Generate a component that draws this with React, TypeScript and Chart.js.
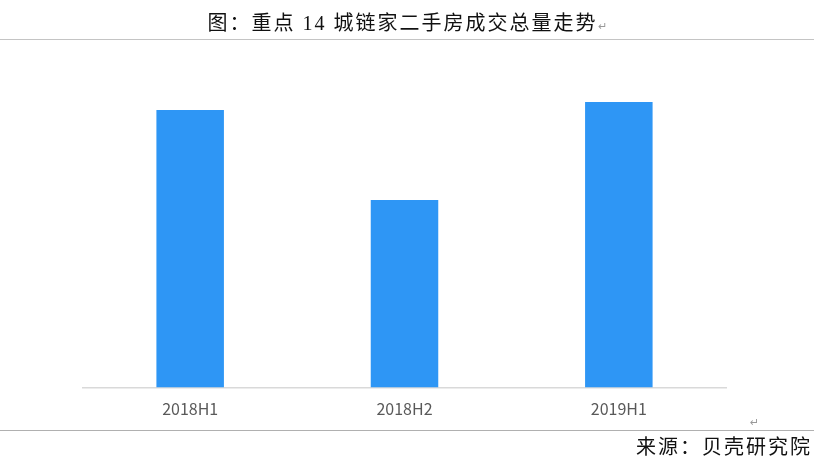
import React, { useEffect, useRef } from "react";
import { Chart, registerables } from "chart.js";

Chart.register(...registerables);

const categories: string[] = ["2018H1", "2018H2", "2019H1"];
const volumes: number[] = [27.75, 18.75, 28.55];
const titleText = "图：重点 14 城链家二手房成交总量走势";
const sourceText = "来源：贝壳研究院";

export default function App() {
  const canvasRef = useRef<HTMLCanvasElement | null>(null);

  useEffect(() => {
    const canvas = canvasRef.current;
    if (!canvas) return;
    const chart = new Chart(canvas, {
      type: "bar",
      data: {
        labels: categories,
        datasets: [
          {
            data: volumes,
            backgroundColor: "rgb(46,150,245)",
            borderWidth: 0,
            categoryPercentage: 1,
            barPercentage: 0.315,
          },
        ],
      },
      options: {
        animation: false,
        responsive: false,
        devicePixelRatio: 1,
        layout: { padding: { top: 87.5, left: 83, right: 88, bottom: 0 } },
        plugins: {
          legend: { display: false },
          tooltip: { enabled: false },
          title: { display: false },
        },
        scales: {
          y: { display: false, min: 0, max: 30 },
          x: {
            grid: { display: false, drawTicks: false },
            border: { display: true, color: "#d9d9d9", width: 1.5 },
            ticks: {
              color: "#595959",
              padding: 12,
              font: { family: "'Noto Sans CJK SC', 'Noto Sans', sans-serif", size: 16 },
            },
            afterFit: (s: any) => {
              s.height = 468 - 387.5;
            },
          },
        },
      },
    });
    return () => chart.destroy();
  }, []);

  return (
    <div style={{ position: "absolute", left: 0, top: 0, width: 814, height: 468, background: "#fff", overflow: "hidden" }}>
      <canvas ref={canvasRef} width={814} height={468} style={{ position: "absolute", left: 0, top: 0, width: 814, height: 468 }} />
      <div
        style={{
          position: "absolute",
          left: 0,
          width: 814,
          top: 9,
          textAlign: "center",
          paddingLeft: 0,
          fontFamily: "'Liberation Serif', 'Noto Sans CJK SC', serif",
          fontSize: 20,
          letterSpacing: 2,
          color: "#111",
          lineHeight: "28px",
          whiteSpace: "nowrap",
        }}
      >
        {titleText}
        <span style={{ fontSize: 11, color: "#999", letterSpacing: 0 }}>↵</span>
      </div>
      <div style={{ position: "absolute", left: 0, top: 39, width: 814, height: 1, background: "#c4c4c4" }} />
      <div style={{ position: "absolute", left: 750, top: 416, fontSize: 11, color: "#999", fontFamily: "'DejaVu Sans', sans-serif" }}>↵</div>
      <div style={{ position: "absolute", left: 0, top: 430, width: 814, height: 1, background: "#b0b0b0" }} />
      <div
        style={{
          position: "absolute",
          right: 2,
          top: 434,
          fontFamily: "'Liberation Serif', 'Noto Sans CJK SC', serif",
          fontSize: 20,
          letterSpacing: 2,
          color: "#111",
          lineHeight: "26px",
          whiteSpace: "nowrap",
        }}
      >
        {sourceText}
      </div>
    </div>
  );
}
